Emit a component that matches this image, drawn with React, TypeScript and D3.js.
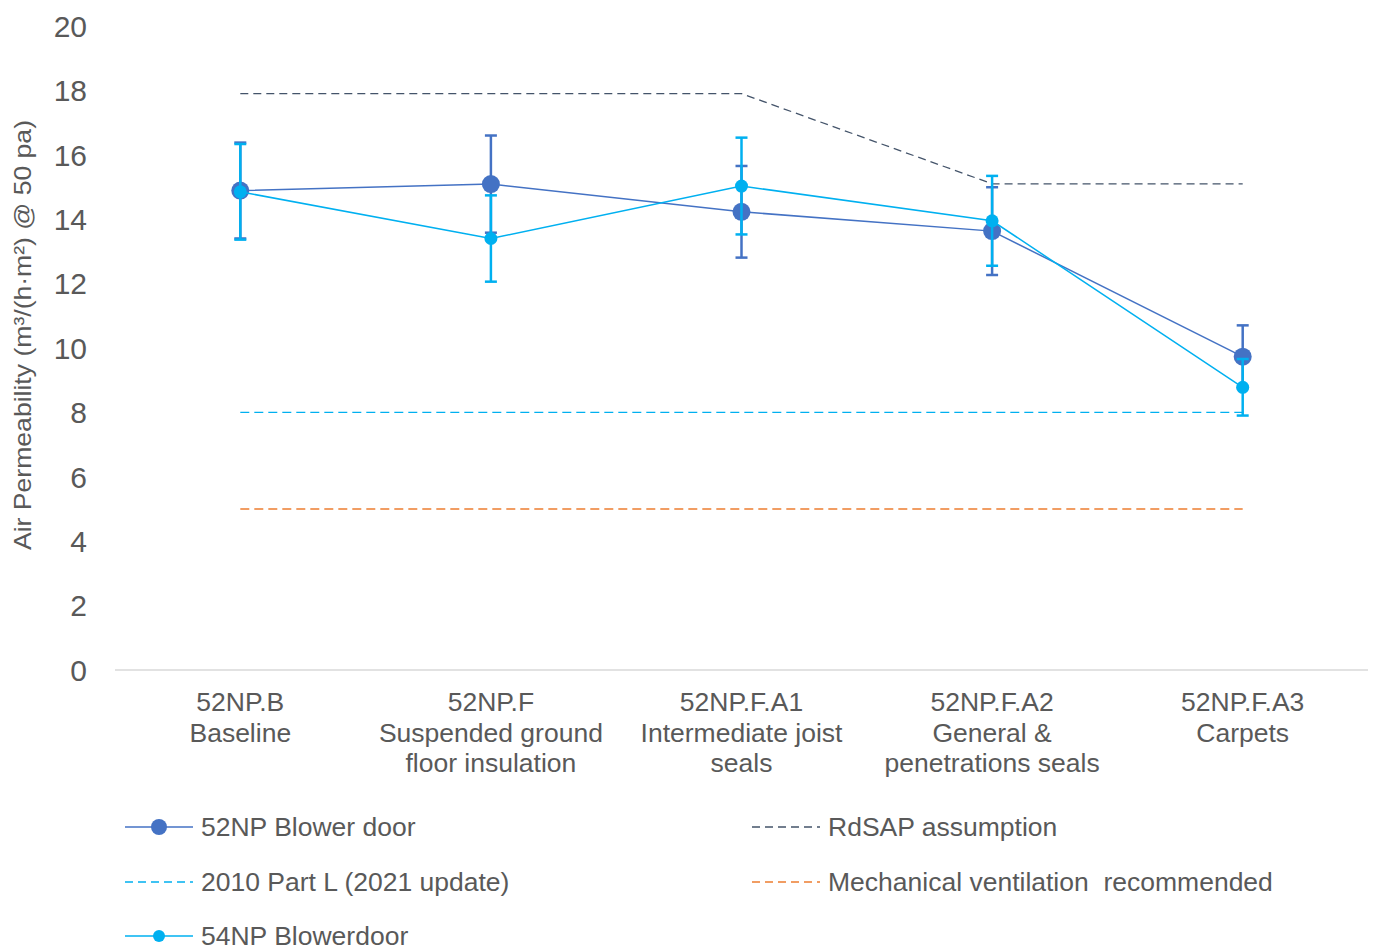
import React from "react";
import * as d3 from "d3";

const categories = [
  ["52NP.B", "Baseline"],
  ["52NP.F", "Suspended ground", "floor insulation"],
  ["52NP.F.A1", "Intermediate joist", "seals"],
  ["52NP.F.A2", "General &", "penetrations seals"],
  ["52NP.F.A3", "Carpets"],
];
const blower52 = [14.89, 15.09, 14.23, 13.63, 9.73];
const blower54 = [14.85, 13.4, 15.03, 13.95, 8.78];
const errorPct = 0.1;
const rdsap = [17.9, 17.9, 17.9, 15.1, 15.1];
const partL = [8, 8, 8, 8, 8];
const mechVent = [5, 5, 5, 5, 5];
const yTicks = [0, 2, 4, 6, 8, 10, 12, 14, 16, 18, 20];

const C_DARK = "#4472C4";
const C_LIGHT = "#00B0F0";
const C_RDSAP = "#44546A";
const C_ORANGE = "#ED7D31";
const TEXT = "#595959";
const FONT = "'Liberation Sans', Arial, sans-serif";

export default function App() {
  const W = 1373, H = 947;
  const x = d3.scaleBand<number>().domain(d3.range(categories.length)).range([115, 1368]);
  const cx = (i: number) => (x(i) as number) + x.bandwidth() / 2;
  const y = d3.scaleLinear().domain([0, 20]).range([670, 26]);
  const line = d3.line<number>().x((_, i) => cx(i)).y((v) => y(v));

  const errBars = (vals: number[], color: string) =>
    vals.map((v, i) => {
      const lo = y(v * (1 - errorPct)), hi = y(v * (1 + errorPct));
      return (
        <g key={i} stroke={color} strokeWidth={2.5}>
          <line x1={cx(i)} x2={cx(i)} y1={lo} y2={hi} />
          <line x1={cx(i) - 6} x2={cx(i) + 6} y1={lo} y2={lo} />
          <line x1={cx(i) - 6} x2={cx(i) + 6} y1={hi} y2={hi} />
        </g>
      );
    });

  const legend = [
    { label: "52NP Blower door", color: C_DARK, dash: null, r: 8, x: 125, y: 827 },
    { label: "RdSAP assumption", color: C_RDSAP, dash: "8,5", r: 0, x: 752, y: 827 },
    { label: "2010 Part L (2021 update)", color: C_LIGHT, dash: "8,5", r: 0, x: 125, y: 882 },
    { label: "Mechanical ventilation\u00a0 recommended", color: C_ORANGE, dash: "8,5", r: 0, x: 752, y: 882 },
    { label: "54NP Blowerdoor", color: C_LIGHT, dash: null, r: 6, x: 125, y: 936 },
  ];

  return (
    <svg width={W} height={H} style={{ position: "absolute", left: 0, top: 0, background: "#fff" }} fontFamily={FONT}>
      {/* y tick labels */}
      {yTicks.map((t) => (
        <text key={t} x={87} y={y(t)} dy="0.36em" textAnchor="end" fontSize={30} fill={TEXT}>
          {t}
        </text>
      ))}
      <text transform={`translate(31,335) rotate(-90)`} textAnchor="middle" fontSize={24} fill={TEXT}
        textLength={430} lengthAdjust="spacingAndGlyphs">
        Air Permeability (m³/(h·m²) @ 50 pa)
      </text>
      {/* x axis */}
      <line x1={115} x2={1368} y1={y(0)} y2={y(0)} stroke="#D9D9D9" strokeWidth={1.5} />
      {categories.map((lines, i) => (
        <text key={i} textAnchor="middle" fontSize={26.5} fill={TEXT}>
          {lines.map((l, j) => (
            <tspan key={j} x={cx(i)} y={711 + j * 30.5}>{l}</tspan>
          ))}
        </text>
      ))}

      {/* reference lines */}
      <path d={line(mechVent) || ""} fill="none" stroke={C_ORANGE} strokeWidth={1.3} strokeDasharray="9,5" />
      <path d={line(partL) || ""} fill="none" stroke={C_LIGHT} strokeWidth={1.3} strokeDasharray="9,5" />
      <path d={line(rdsap) || ""} fill="none" stroke={C_RDSAP} strokeWidth={1.3} strokeDasharray="8,5" />

      {/* 52NP blower door */}
      {errBars(blower52, C_DARK)}
      <path d={line(blower52) || ""} fill="none" stroke={C_DARK} strokeWidth={1.5} />
      {blower52.map((v, i) => (
        <circle key={i} cx={cx(i)} cy={y(v)} r={9} fill={C_DARK} />
      ))}

      {/* 54NP blower door */}
      {errBars(blower54, C_LIGHT)}
      <path d={line(blower54) || ""} fill="none" stroke={C_LIGHT} strokeWidth={1.5} />
      {blower54.map((v, i) => (
        <circle key={i} cx={cx(i)} cy={y(v)} r={6.5} fill={C_LIGHT} />
      ))}

      {/* legend */}
      {legend.map((e, k) => (
        <g key={k}>
          <line x1={e.x} x2={e.x + 68} y1={e.y} y2={e.y} stroke={e.color} strokeWidth={1.5}
            strokeDasharray={e.dash || undefined} />
          {e.r > 0 && <circle cx={e.x + 34} cy={e.y} r={e.r} fill={e.color} />}
          <text x={e.x + 76} y={e.y} dy="0.35em" fontSize={26.5} fill={TEXT}>{e.label}</text>
        </g>
      ))}
    </svg>
  );
}
